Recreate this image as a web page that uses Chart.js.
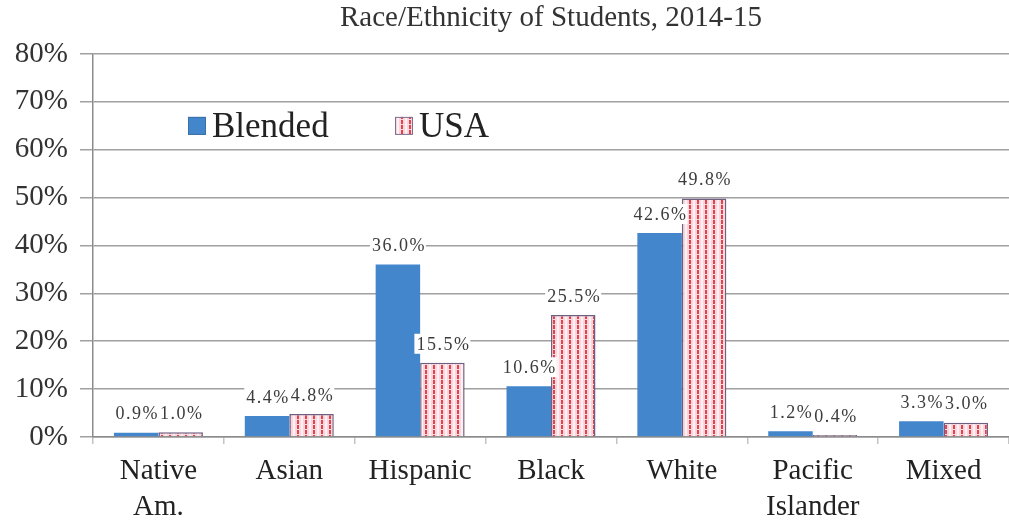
<!DOCTYPE html>
<html>
<head>
<meta charset="utf-8">
<title>Race/Ethnicity of Students, 2014-15</title>
<script src="https://cdn.jsdelivr.net/npm/chart.js@4.4.1/dist/chart.umd.min.js"></script>
<style>
  body { margin: 0; background: #fff; }
  #wrap { width: 1009px; height: 522px; }
</style>
</head>
<body>
<div id="wrap"><canvas id="raceChart" width="1009" height="522"></canvas></div>
<script>
        // chart data
        const categories = [['Native', 'Am.'], 'Asian', 'Hispanic', 'Black', 'White', ['Pacific', 'Islander'], 'Mixed'];
        const blendedValues = [0.9, 4.4, 36.0, 10.6, 42.6, 1.2, 3.3];
        const usaValues = [1.0, 4.8, 15.5, 25.5, 49.8, 0.4, 3.0];
        const seriesNames = ['Blended', 'USA'];
        const yTicks = [0, 10, 20, 30, 40, 50, 60, 70, 80];

        const serif = "'Liberation Serif', 'DejaVu Serif', serif";
        const blue = '#4386cc';

        // pink striped fill for the USA bars
        function makeStripes() {
            const c = document.createElement('canvas');
            c.width = 8;
            c.height = 10;
            const g = c.getContext('2d');
            g.fillStyle = '#f9d6dc';
            g.fillRect(0, 0, 8, 10);
            g.fillStyle = '#fdf0f2';
            g.fillRect(5, 0, 2, 10);
            g.strokeStyle = '#e0424e';
            g.lineWidth = 2;
            g.setLineDash([4, 1]);
            g.beginPath();
            g.moveTo(2, 0);
            g.lineTo(2, 10);
            g.stroke();
            return g.createPattern(c, 'repeat');
        }
        const stripes = makeStripes();

        // value labels with white box above each bar
        const valueLabels = {
            id: 'valueLabels',
            afterDatasetsDraw(chart) {
                const ctx = chart.ctx;
                ctx.save();
                ctx.font = '18px ' + serif;
                ctx.letterSpacing = '1.5px';
                ctx.textAlign = 'center';
                ctx.textBaseline = 'middle';
                chart.data.datasets.forEach((ds, i) => {
                    chart.getDatasetMeta(i).data.forEach((bar, j) => {
                        const txt = ds.data[j].toFixed(1) + '%';
                        const w = ctx.measureText(txt).width + 2;
                        const y = bar.y - 19;
                        ctx.fillStyle = '#fff';
                        ctx.fillRect(bar.x - w / 2, y - 10, w, 20);
                        ctx.fillStyle = '#3c3c3c';
                        ctx.fillText(txt, bar.x + 1, y + 1);
                    });
                });
                ctx.restore();
            }
        };

        // legend drawn inside the plot area
        const innerLegend = {
            id: 'innerLegend',
            afterDraw(chart) {
                const ctx = chart.ctx;
                const a = chart.chartArea;
                const cy = a.top + 72;
                const spots = [a.left + 95, a.left + 302];
                ctx.save();
                ctx.font = '35px ' + serif;
                ctx.textBaseline = 'middle';
                chart.data.datasets.forEach((ds, i) => {
                    const x = spots[i];
                    ctx.fillStyle = ds.backgroundColor;
                    ctx.fillRect(x, cy - 9, 18, 18);
                    ctx.strokeStyle = i === 0 ? '#3a6fa8' : '#7f7090';
                    ctx.lineWidth = 1;
                    ctx.strokeRect(x + 0.5, cy - 8.5, 17, 17);
                    ctx.fillStyle = '#222';
                    ctx.fillText(ds.label, x + 24, cy + 2);
                });
                ctx.restore();
            }
        };

        const ctx = document.getElementById('raceChart').getContext('2d');
        const raceChart = new Chart(ctx, {
            type: 'bar',
            data: {
                labels: categories,
                datasets: [{
                    label: seriesNames[0],
                    data: blendedValues,
                    backgroundColor: blue,
                    borderWidth: 0,
                    categoryPercentage: 0.68,
                    barPercentage: 1
                }, {
                    label: seriesNames[1],
                    data: usaValues,
                    backgroundColor: stripes,
                    borderColor: '#6f5f80',
                    borderWidth: 1.5,
                    categoryPercentage: 0.68,
                    barPercentage: 1
                }]
            },
            options: {
                responsive: false,
                animation: false,
                layout: { padding: { left: 0, right: 0, top: 0, bottom: 0 } },
                scales: {
                    x: {
                        grid: {
                            drawOnChartArea: false,
                            tickLength: 7,
                            color: '#c4c4c4',
                            lineWidth: 1.5
                        },
                        border: { color: '#8c8c8c', width: 1.5 },
                        ticks: {
                            color: '#222',
                            padding: 10,
                            font: { family: serif, size: 29, lineHeight: 1.22 }
                        },
                        afterFit: s => { s.height = 85; }
                    },
                    y: {
                        min: 0,
                        max: 80,
                        afterBuildTicks: s => { s.ticks = yTicks.map(v => ({ value: v })); },
                        grid: {
                            color: '#a0a0a0',
                            lineWidth: 1.5,
                            tickLength: 13
                        },
                        border: { color: '#8c8c8c', width: 1.5 },
                        ticks: {
                            color: '#333',
                            padding: 12,
                            font: { family: serif, size: 29 },
                            callback: v => v + '%'
                        },
                        afterFit: s => { s.width = 93; }
                    }
                },
                plugins: {
                    legend: { display: false },
                    tooltip: { enabled: false },
                    title: {
                        display: true,
                        text: 'Race/Ethnicity of Students, 2014-15',
                        fullSize: false,
                        color: '#333',
                        font: { family: serif, size: 29, weight: 'normal', lineHeight: 1.1 },
                        padding: { top: 2, bottom: 20 }
                    }
                }
            },
            plugins: [valueLabels, innerLegend]
        });
</script>
</body>
</html>
